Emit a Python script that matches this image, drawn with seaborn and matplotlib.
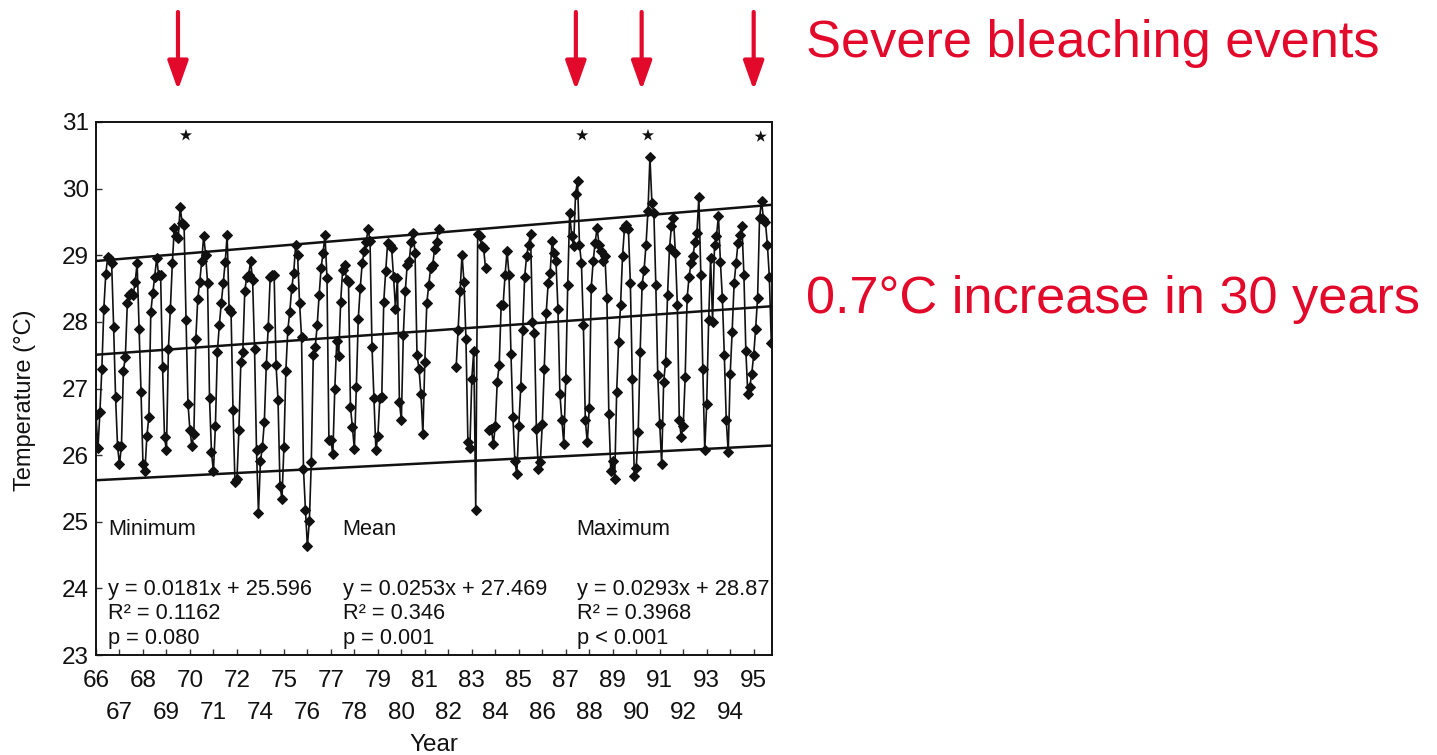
import numpy as np
import pandas as pd
import matplotlib
matplotlib.use("Agg")
import matplotlib.pyplot as plt
import seaborn as sns

# Monthly sea temperature (°C), one row per year
# nan = no data (gaps in the record)
nan = np.nan
temp_rows = [
    [26.6, 26.1, 26.65, 27.3, 28.2, 28.72, 28.98, 28.95, 28.88, 27.93, 26.87, 26.14],   # 66
    [25.86, 26.14, 27.27, 27.47, 28.28, 28.41, 28.43, 28.4, 28.6, 28.88, 27.9, 26.95],  # 67
    [25.86, 25.76, 26.29, 26.57, 28.15, 28.43, 28.68, 28.96, 28.7, 28.71, 27.32, 26.27],  # 68
    [26.07, 27.6, 28.2, 28.88, 29.41, 29.29, 29.26, 29.72, 29.49, 29.46, 28.03, 26.77],  # 69
    [26.37, 26.14, 26.31, 27.75, 28.35, 28.6, 28.91, 29.29, 29.01, 28.58, 26.85, 26.04],  # 70
    [25.76, 26.44, 27.55, 27.95, 28.28, 28.58, 28.9, 29.3, 28.2, 28.15, 26.67, 25.59],   # 71
    [25.64, 26.37, 27.4, 27.55, 28.46, 28.68, 28.71, 28.91, 28.63, 27.6, 26.07, 25.13],  # 72
    [25.91, 26.12, 26.5, 27.35, 27.93, 28.68, 28.71, 28.71, 27.35, 26.82, 25.54, 25.34],  # 74
    [26.12, 27.27, 27.88, 28.15, 28.51, 28.73, 29.16, 29.0, 28.28, 27.78, 25.79, 25.18],  # 75
    [24.63, 25.01, 25.9, 27.5, 27.62, 27.95, 28.4, 28.81, 29.04, 29.3, 28.66, 26.22],    # 76
    [26.22, 26.01, 27.0, 27.71, 27.49, 28.3, 28.78, 28.86, 28.63, 28.6, 26.72, 26.42],   # 77
    [26.09, 27.02, 28.05, 28.51, 28.88, 29.06, 29.2, 29.39, 29.21, 27.63, 26.85, 26.07],  # 78
    [26.29, 26.85, 26.87, 28.3, 28.76, 29.19, 29.15, 29.11, 28.68, 28.2, 28.66, 26.8],   # 79
    [26.52, 27.8, 28.46, 28.86, 28.91, 29.2, 29.34, 29.03, 27.5, 27.3, 26.92, 26.32],    # 80
    [27.4, 28.28, 28.56, 28.81, 28.85, 29.1, 29.2, 29.39, nan, nan, nan, nan],          # 81
    [nan, nan, nan, nan, 27.32, 27.88, 28.46, 29.01, 28.6, 27.75, 26.2, 26.1],          # 82
    [27.15, 27.57, 25.18, 29.32, 29.29, 29.14, 29.11, 28.81, nan, 26.37, 26.39, 26.17],  # 83
    [26.44, 27.1, 27.35, 28.26, 28.26, 28.71, 29.06, 28.71, 27.52, 26.57, 25.91, 25.71],  # 84
    [26.44, 27.02, 27.88, 28.68, 28.99, 29.16, 29.32, 28.0, 27.83, 26.39, 25.79, 25.89],  # 85
    [26.47, 27.3, 28.13, 28.58, 28.73, 29.21, 29.04, 28.91, 28.2, 26.92, 26.52, 26.17],  # 86
    [27.15, 28.56, 29.64, 29.29, 29.14, 29.92, 30.12, 29.16, 28.88, 27.95, 26.52, 26.19],  # 87
    [26.7, 28.51, 28.91, 29.19, 29.41, 29.16, 29.06, 28.91, 28.99, 28.36, 26.62, 25.76],  # 88
    [25.91, 25.64, 26.95, 27.7, 28.26, 28.99, 29.41, 29.46, 29.39, 28.58, 27.15, 25.69],  # 89
    [25.81, 26.34, 27.55, 28.56, 28.78, 29.16, 29.67, 30.47, 29.79, 29.64, 28.56, 27.2],  # 90
    [26.47, 25.86, 27.1, 27.4, 28.41, 29.11, 29.44, 29.56, 29.04, 28.26, 26.52, 26.27],  # 91
    [26.44, 27.17, 28.36, 28.68, 28.88, 28.99, 29.2, 29.34, 29.87, 28.71, 27.3, 26.07],  # 92
    [26.77, 28.03, 28.96, 28.0, 29.16, 29.29, 29.59, 28.9, 28.36, 27.5, 26.52, 26.04],   # 93
    [27.22, 27.85, 28.58, 28.88, 29.19, 29.3, 29.44, 28.71, 27.57, 26.92, 27.02, 27.22],  # 94
    [27.5, 27.9, 28.36, 29.56, 29.82, 29.54, 29.5, 29.16, 28.68, 27.68],               # 95
]

year_labels = ['66', '67', '68', '69', '70', '71', '72', '74', '75', '76', '77', '78',
               '79', '80', '81', '82', '83', '84', '85', '86', '87', '88', '89', '90',
               '91', '92', '93', '94', '95']

# regression lines printed on the chart
fit_names = ['Minimum', 'Mean', 'Maximum']
fit_slope = [0.0181, 0.0253, 0.0293]
fit_intercept = [25.596, 27.469, 28.87]
fit_r2 = ['0.1162', '0.346', '0.3968']
fit_p = ['p = 0.080', 'p = 0.001', 'p < 0.001']

# severe bleaching years (star position on the time axis)
star_t = [3.83, 20.7, 23.5, 28.3]
star_temp = [30.8, 30.8, 30.8, 30.78]
arrow_t = [3.49, 20.43, 23.23, 28.0]

RED = '#E3092B'
INK = '#111111'

sns.set_style('ticks')
plt.rcParams['font.family'] = ['Liberation Sans', 'DejaVu Sans']
plt.rcParams['text.color'] = INK
plt.rcParams['axes.labelcolor'] = INK
plt.rcParams['xtick.color'] = INK
plt.rcParams['ytick.color'] = INK

# long table: one row per month, segments split at gaps
rows = []
seg = 0
for i, vals in enumerate(temp_rows):
    for m, v in enumerate(vals):
        if np.isnan(v):
            seg += 1
            continue
        rows.append({'t': i + m / 12.0, 'temp': v, 'seg': seg})
df = pd.DataFrame(rows)

x_max = 28.78

fig = plt.figure(figsize=(14.37, 7.55), dpi=100)
ax = fig.add_axes([96 / 1437, 1 - 655 / 755, 676 / 1437, 533 / 755])

sns.lineplot(data=df, x='t', y='temp', units='seg', estimator=None, sort=False,
             color=INK, lw=1.2, marker='D', markersize=4.8,
             markeredgecolor=INK, ax=ax, legend=False)

# fitted trend lines
for s, b in zip(fit_slope, fit_intercept):
    xs = np.array([0.0, x_max])
    line = pd.DataFrame({'t': xs, 'temp': s * (xs + 1.5) + b})
    sns.lineplot(data=line, x='t', y='temp', color=INK, lw=1.8, ax=ax)

sns.scatterplot(x=star_t, y=star_temp, marker='*', s=85, color=INK,
                edgecolor='none', ax=ax)

ax.set_xlim(0, x_max)
ax.set_ylim(23, 31)
ax.set_yticks(range(23, 32))
ax.set_yticklabels([str(v) for v in range(23, 32)], fontsize=17.5)

pos = list(range(len(year_labels)))
ax.set_xticks(pos[0::2])
ax.set_xticklabels(year_labels[0::2], fontsize=17.5)
ax.set_xticks(pos[1::2], minor=True)
ax.set_xticklabels(year_labels[1::2], minor=True, fontsize=17.5)
ax.tick_params(axis='both', which='both', direction='in', length=4, width=1, color='#333333')
ax.tick_params(axis='x', which='major', pad=11)
ax.tick_params(axis='x', which='minor', pad=34)
ax.tick_params(axis='y', pad=5)

ax.set_xlabel('Year', fontsize=17.5, labelpad=7)
ax.set_ylabel('Temperature (°C)', fontsize=17)
ax.yaxis.set_label_coords(-0.089, 0.478)

for sp in ax.spines.values():
    sp.set_visible(True)
    sp.set_linewidth(1.4)
    sp.set_color(INK)

# equation blocks
text_x = [0.018, 0.365, 0.711]
for x, name, s, b, r2, p in zip(text_x, fit_names, fit_slope, fit_intercept, fit_r2, fit_p):
    ax.text(x, 0.235, name, transform=ax.transAxes, fontsize=15.7, va='center', ha='left')
    b_txt = f'{b:.3f}'.rstrip('0')
    block = f'y = {s}x + {b_txt}\nR² = {r2}\n{p}'
    ax.text(x, 0.143, block, transform=ax.transAxes, fontsize=15.7, va='top', ha='left',
            linespacing=1.22)

# red annotations
for x in arrow_t:
    ax.annotate('', xy=(x, 755 - 90), xytext=(x, 755 - 12),
                xycoords=('data', 'figure pixels'), textcoords=('data', 'figure pixels'),
                arrowprops=dict(arrowstyle='-|>,head_length=0.7,head_width=0.25',
                                color=RED, lw=3, mutation_scale=25,
                                shrinkA=0, shrinkB=0),
                annotation_clip=False)

fig.text(806 / 1437, 1 - 43 / 755, 'Severe bleaching events', color=RED, fontsize=37.7,
         va='center', ha='left')
fig.text(806 / 1437, 1 - 300 / 755, '0.7°C increase in 30 years', color=RED, fontsize=37.7,
         va='center', ha='left')

fig.savefig('out.png', dpi=100)
